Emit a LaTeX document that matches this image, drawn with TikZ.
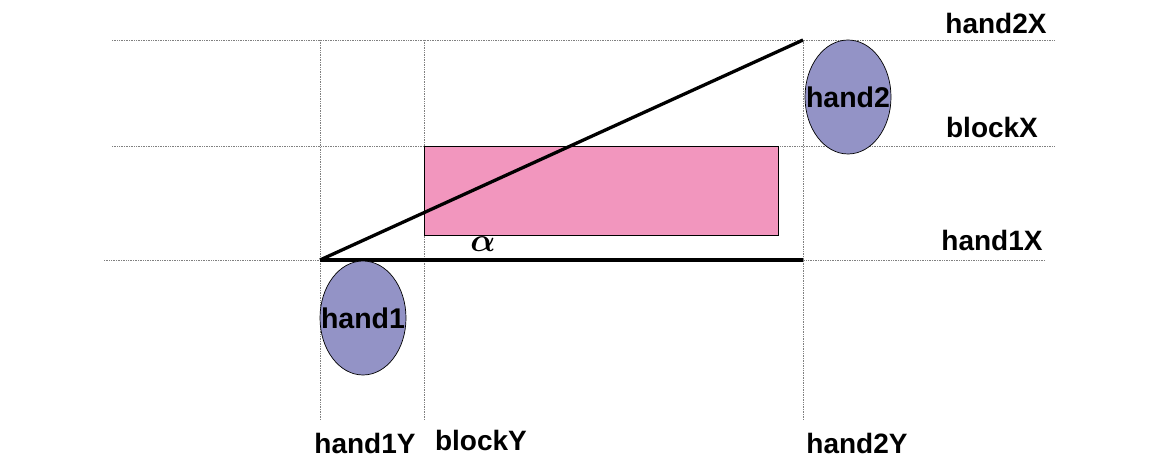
\documentclass[tikz,border=0pt]{standalone}
\usepackage{amsmath}
\usepackage{fontspec}
\setmainfont{Liberation Sans}
\usetikzlibrary{shapes.geometric}
\definecolor{pinkfill}{HTML}{F296BE}
\definecolor{handfill}{HTML}{9393C6}
\definecolor{guide}{HTML}{808080}
\tikzset{
  guideline/.style={draw=guide, line width=0.7pt, densely dotted},
  thickline/.style={draw=black, line width=3.3pt},
  handshape/.style={ellipse, draw=black, line width=0.7pt, fill=handfill, minimum width=86pt, minimum height=114pt, inner sep=0pt},
  handtext/.style={font=\fontsize{28.5}{30}\selectfont\bfseries, inner sep=0pt},
  lbl/.style={font=\fontsize{28}{30}\selectfont\bfseries, inner sep=0pt}
}
\begin{document}
\begin{tikzpicture}[x=1pt, y=-1pt]
\useasboundingbox (0,0) rectangle (1150,457);
% guide coordinates
\coordinate (h2xL) at (112,40);  \coordinate (h2xR) at (1054,40);
\coordinate (bxL) at (112,146);  \coordinate (bxR) at (1054,146);
\coordinate (h1xL) at (104,260); \coordinate (h1xR) at (1045,260);
\coordinate (h1yT) at (320,40);  \coordinate (h1yB) at (320,420);
\coordinate (byT) at (424,40);   \coordinate (byB) at (424,420);
\coordinate (h2yT) at (803,40);  \coordinate (h2yB) at (803,420);
\draw[guideline] (h2xL) -- (h2xR);
\draw[guideline] (bxL) -- (bxR);
\draw[guideline] (h1xL) -- (h1xR);
\draw[guideline] (h1yT) -- (h1yB);
\draw[guideline] (byT) -- (byB);
\draw[guideline] (h2yT) -- (h2yB);
% block
\node[draw=black, line width=0.7pt, fill=pinkfill, minimum width=354pt, minimum height=89pt, inner sep=0pt, anchor=north west] (block) at (424,146) {};
% triangle
\coordinate (p1) at (320,260);
\coordinate (p2) at (803,40);
\coordinate (p3) at (803,260);
\draw[thickline] (p1) -- (p2);
\draw[thickline] (p1) -- (p3);
\node[inner sep=0pt] (alpha) at (483,244) {\scalebox{3.3}{$\boldsymbol{\alpha}$}};
% hands
\node[handshape] (hand1) at (363,318) {};
\node[handtext] (hand1t) at (hand1.center) {hand1};
\node[handshape] (hand2) at (848,97) {};
\node[handtext] (hand2t) at (hand2.center) {hand2};
% labels
\node[lbl] (l1) at (996,23) {hand2X};
\node[lbl] (l2) at (992,127) {blockX};
\node[lbl] (l3) at (992,240) {hand1X};
\node[lbl] (l4) at (365,443) {hand1Y};
\node[lbl] (l5) at (481,440) {blockY};
\node[lbl] (l6) at (857,443) {hand2Y};
\end{tikzpicture}
\end{document}
